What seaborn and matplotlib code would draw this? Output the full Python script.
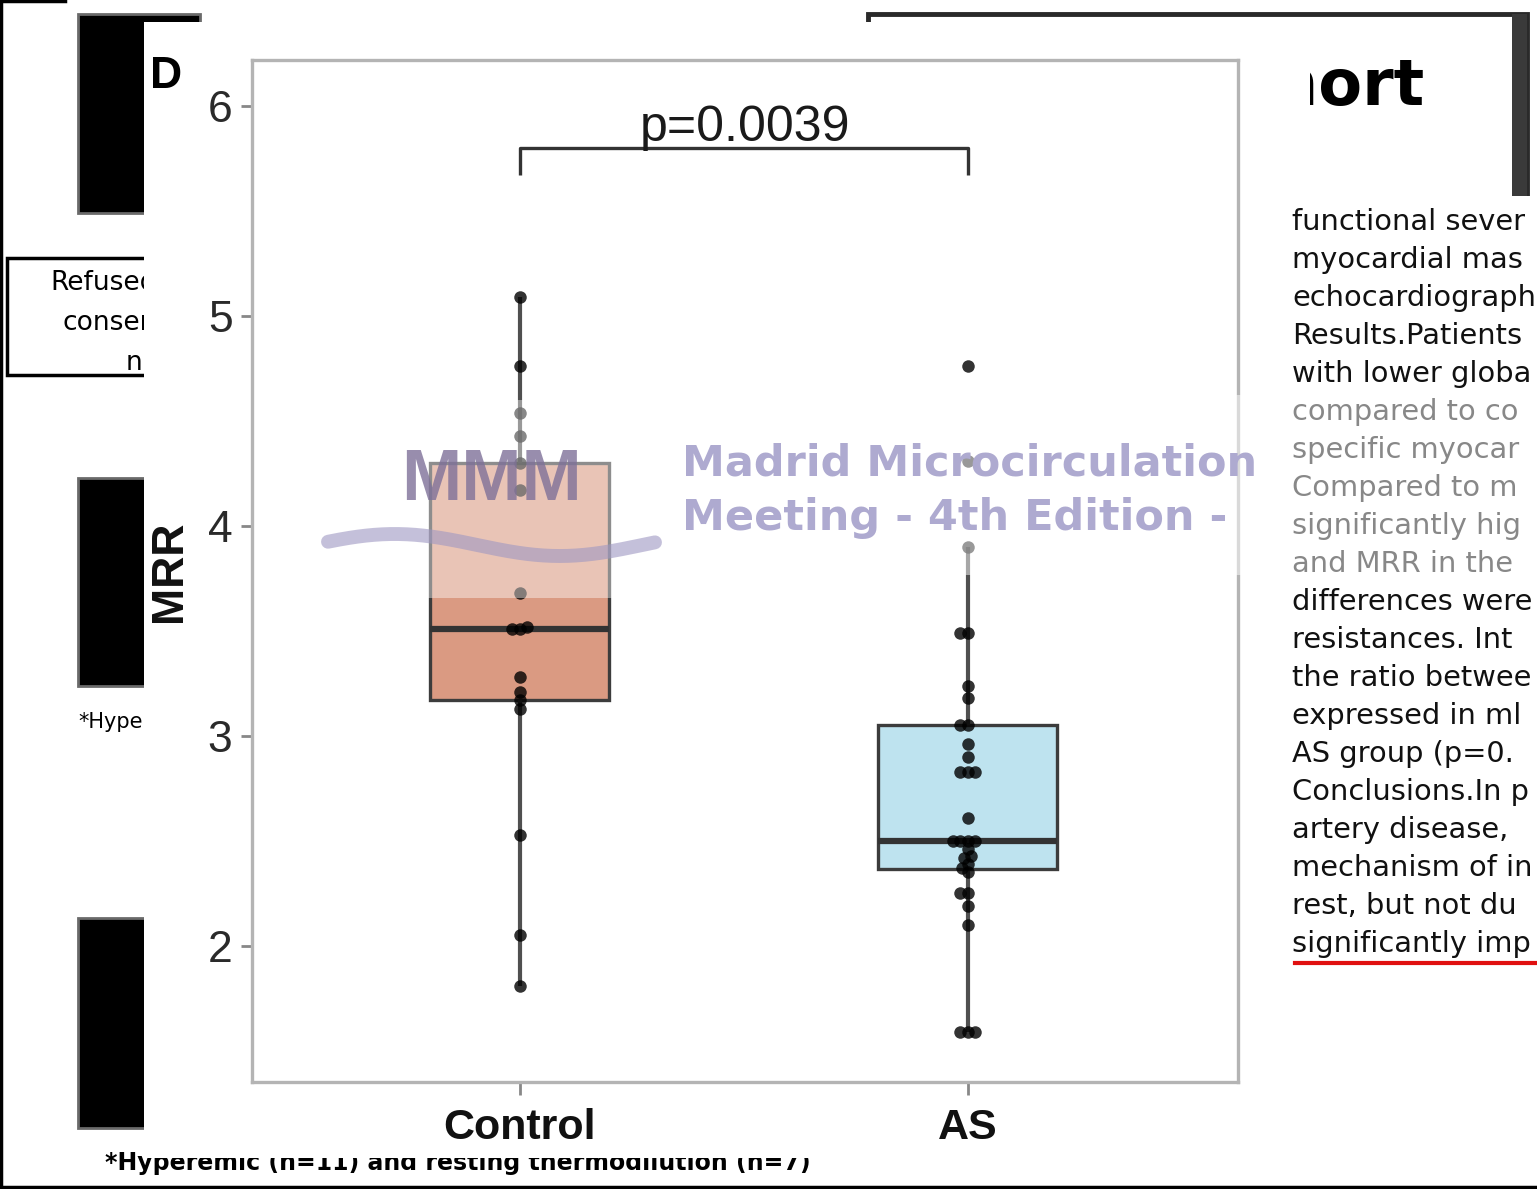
import numpy as np
import pandas as pd
import matplotlib
matplotlib.use("Agg")
import matplotlib.pyplot as plt
import seaborn as sns
from matplotlib.patches import Rectangle
from matplotlib.lines import Line2D

# ---------------- data ----------------
groups = ["Control", "AS"]
control_mrr = [5.09, 4.76, 4.54, 4.43, 4.30, 4.17, 3.68, 3.52, 3.51, 3.51,
               3.28, 3.21, 3.17, 3.13, 2.53, 2.05, 1.81]
as_mrr = [4.76, 4.31, 3.90, 3.49, 3.49, 3.24, 3.18, 3.05, 3.05, 2.96, 2.90,
          2.83, 2.83, 2.83, 2.61, 2.50, 2.50, 2.50, 2.50, 2.46, 2.43, 2.42,
          2.39, 2.37, 2.35, 2.25, 2.25, 2.19, 2.10, 1.59, 1.59, 1.59]
box_colors = ["#DA9A82", "#BEE3EF"]
y_ticks = [2, 3, 4, 5, 6]
p_label = "p=0.0039"
y_label = "MRR"
panel_label = "D"

right_lines = ["functional sever", "myocardial mas", "echocardiograph",
               "Results.Patients", "with lower globa", "compared to co",
               "specific myocar", "Compared to m", "significantly hig",
               "and MRR in the", "differences were", "resistances. Int",
               "the ratio betwee", "expressed in ml", "AS group (p=0.",
               "Conclusions.In p", "artery disease,", "mechanism of in",
               "rest, but not du", "significantly imp"]

df = pd.DataFrame({
    "group": ["Control"] * len(control_mrr) + ["AS"] * len(as_mrr),
    "MRR": control_mrr + as_mrr,
})

W, H = 1537, 1189
fig = plt.figure(figsize=(W / 100, H / 100), dpi=100)
fig.patch.set_facecolor("white")


def fx(px):
    return px / W


def fy(py):
    return 1 - py / H


def frect(x0, y0, x1, y1, **kw):
    r = Rectangle((fx(x0), fy(y1)), fx(x1) - fx(x0), fy(y0) - fy(y1),
                  transform=fig.transFigure, **kw)
    fig.patches.append(r)
    return r


# ---------------- background slide fragments ----------------
for (y0, y1) in [(14, 213), (478, 686), (918, 1128)]:
    frect(78, y0, 200, y1, facecolor="black", edgecolor="#6a6a6a", lw=2, zorder=-5)
frect(7, 258, 200, 375, facecolor="white", edgecolor="black", lw=2.5, zorder=-5)
fig.text(fx(50), fy(290), "Refused", fontsize=19, family="DejaVu Sans", zorder=-4)
fig.text(fx(62), fy(330), "consent", fontsize=19, family="DejaVu Sans", zorder=-4)
fig.text(fx(126), fy(370), "n=3", fontsize=19, family="DejaVu Sans", zorder=-4)
fig.text(fx(78), fy(728), "*Hyperemic", fontsize=15, family="DejaVu Sans", zorder=-4)
fig.text(fx(105), fy(1170), "*Hyperemic (n=11) and resting thermodilution (n=7)",
         fontsize=17, family="DejaVu Sans", weight="bold", zorder=-4)
frect(868, 14, 1527, 200, facecolor="white", edgecolor="#2a2a2a", lw=3.5, zorder=-5)
frect(1512, 14, 1527, 200, facecolor="#3a3a3a", edgecolor="none", zorder=-5)
fig.text(fx(1425), fy(105), "Cohort", fontsize=46, weight="bold",
         family="DejaVu Sans", ha="right", zorder=-4)
fig.lines.append(Line2D([fx(1), fx(1)], [0, 1], transform=fig.transFigure,
                        color="black", lw=2.5, zorder=-4))
fig.lines.append(Line2D([0, 1], [fy(1187), fy(1187)], transform=fig.transFigure,
                        color="black", lw=2.5, zorder=-4))
fig.lines.append(Line2D([0, fx(65)], [fy(1), fy(1)], transform=fig.transFigure,
                        color="black", lw=2.5, zorder=-4))

# white panel holding the chart
frect(144, 22, 1310, 1158, facecolor="white", edgecolor="none", zorder=-1)

# right-hand abstract text block (on top of the panel edge)
frect(1285, 196, 1537, 1000, facecolor="white", edgecolor="none", zorder=1)
for i, line in enumerate(right_lines):
    fig.text(fx(1292), fy(230 + 38 * i), line, fontsize=20.8,
             family="DejaVu Sans", color="#111111", zorder=2)
fig.lines.append(Line2D([fx(1295), fx(1537)], [fy(963), fy(963)],
                        transform=fig.transFigure, color="#e01010", lw=3, zorder=2))

# ---------------- main chart ----------------
ax = fig.add_axes([fx(252), fy(1082), fx(1238) - fx(252), fy(60) - fy(1082)])
ax.set_facecolor("white")

sns.boxplot(data=df, x="group", y="MRR", order=groups, hue="group",
            hue_order=groups, palette=box_colors, saturation=1, legend=False,
            width=0.4, linewidth=2.4, linecolor="#3c3c3c", showfliers=False,
            showcaps=False, whis=1.5,
            medianprops=dict(linewidth=4.5, color="#333333"),
            whiskerprops=dict(linewidth=3.0, color="#505050"), ax=ax)
n_before = len(ax.collections)
sns.swarmplot(data=df, x="group", y="MRR", order=groups, color="black",
              size=5.2, alpha=0.8, ax=ax, zorder=5, warn_thresh=1)

ax.set_xlim(-0.598, 1.603)
ax.set_ylim(1.352, 6.219)

# let seaborn place the swarm with tight spacing, then show larger dots
fig.canvas.draw()
for coll in ax.collections[n_before:]:
    if "draw" in coll.__dict__:
        del coll.draw
    coll.set_sizes([9.0 ** 2])

ax.set_yticks(y_ticks)
ax.set_yticklabels([str(t) for t in y_ticks])
ax.tick_params(axis="y", labelsize=32, colors="#888888", labelcolor="#2a2a2a",
               length=8, width=2, pad=6)
ax.tick_params(axis="x", labelsize=31, colors="#888888", labelcolor="#111111",
               length=9, width=2, pad=10)
for lab in ax.get_xticklabels():
    lab.set_fontweight("bold")
for t in ax.get_xticklabels() + ax.get_yticklabels():
    t.set_family("Liberation Sans")
ax.set_xlabel("")
ax.set_ylabel(y_label, fontsize=32, fontweight="bold", family="Liberation Sans",
              color="#111111")
ax.yaxis.set_label_coords(-0.063, 0.5)
for s in ax.spines.values():
    s.set_color("#b4b4b4")
    s.set_linewidth(2.4)

# significance bracket
ax.plot([0, 0, 1, 1], [5.671, 5.80, 5.80, 5.671], color="#333333", lw=2.4,
        solid_capstyle="butt", clip_on=False)
ax.text(0.502, 5.835, p_label, ha="center", va="baseline", fontsize=36,
        family="Liberation Sans", color="#1a1a1a")

fig.text(fx(150), fy(88), panel_label, fontsize=32, weight="bold",
         family="Liberation Sans", zorder=6)

# ---------------- watermark ----------------
frect(325, 400, 672, 598, facecolor="white", edgecolor="none", alpha=0.42, zorder=8)
frect(672, 395, 1537, 575, facecolor="white", edgecolor="none", alpha=0.5, zorder=8)
fig.text(fx(492), fy(500), "MMM", fontsize=52, color="#7f7199", alpha=0.8,
         ha="center", family="Liberation Sans", weight="bold", zorder=9)
wx = np.linspace(328, 655, 200)
wy = 545 - 11 * np.sin((wx - 328) / 330 * 2 * np.pi + 0.3)
fig.lines.append(Line2D(fx(wx), fy(wy), transform=fig.transFigure,
                        color="#9e97c2", lw=10, alpha=0.6, zorder=9,
                        solid_capstyle="round"))
fig.text(fx(682), fy(476), "Madrid Microcirculation", fontsize=31,
         weight="bold", color="#aeaad0", family="DejaVu Sans", zorder=9)
fig.text(fx(682), fy(530), "Meeting - 4th Edition -", fontsize=31,
         weight="bold", color="#aeaad0", family="DejaVu Sans", zorder=9)

fig.savefig("out.png", dpi=100)
